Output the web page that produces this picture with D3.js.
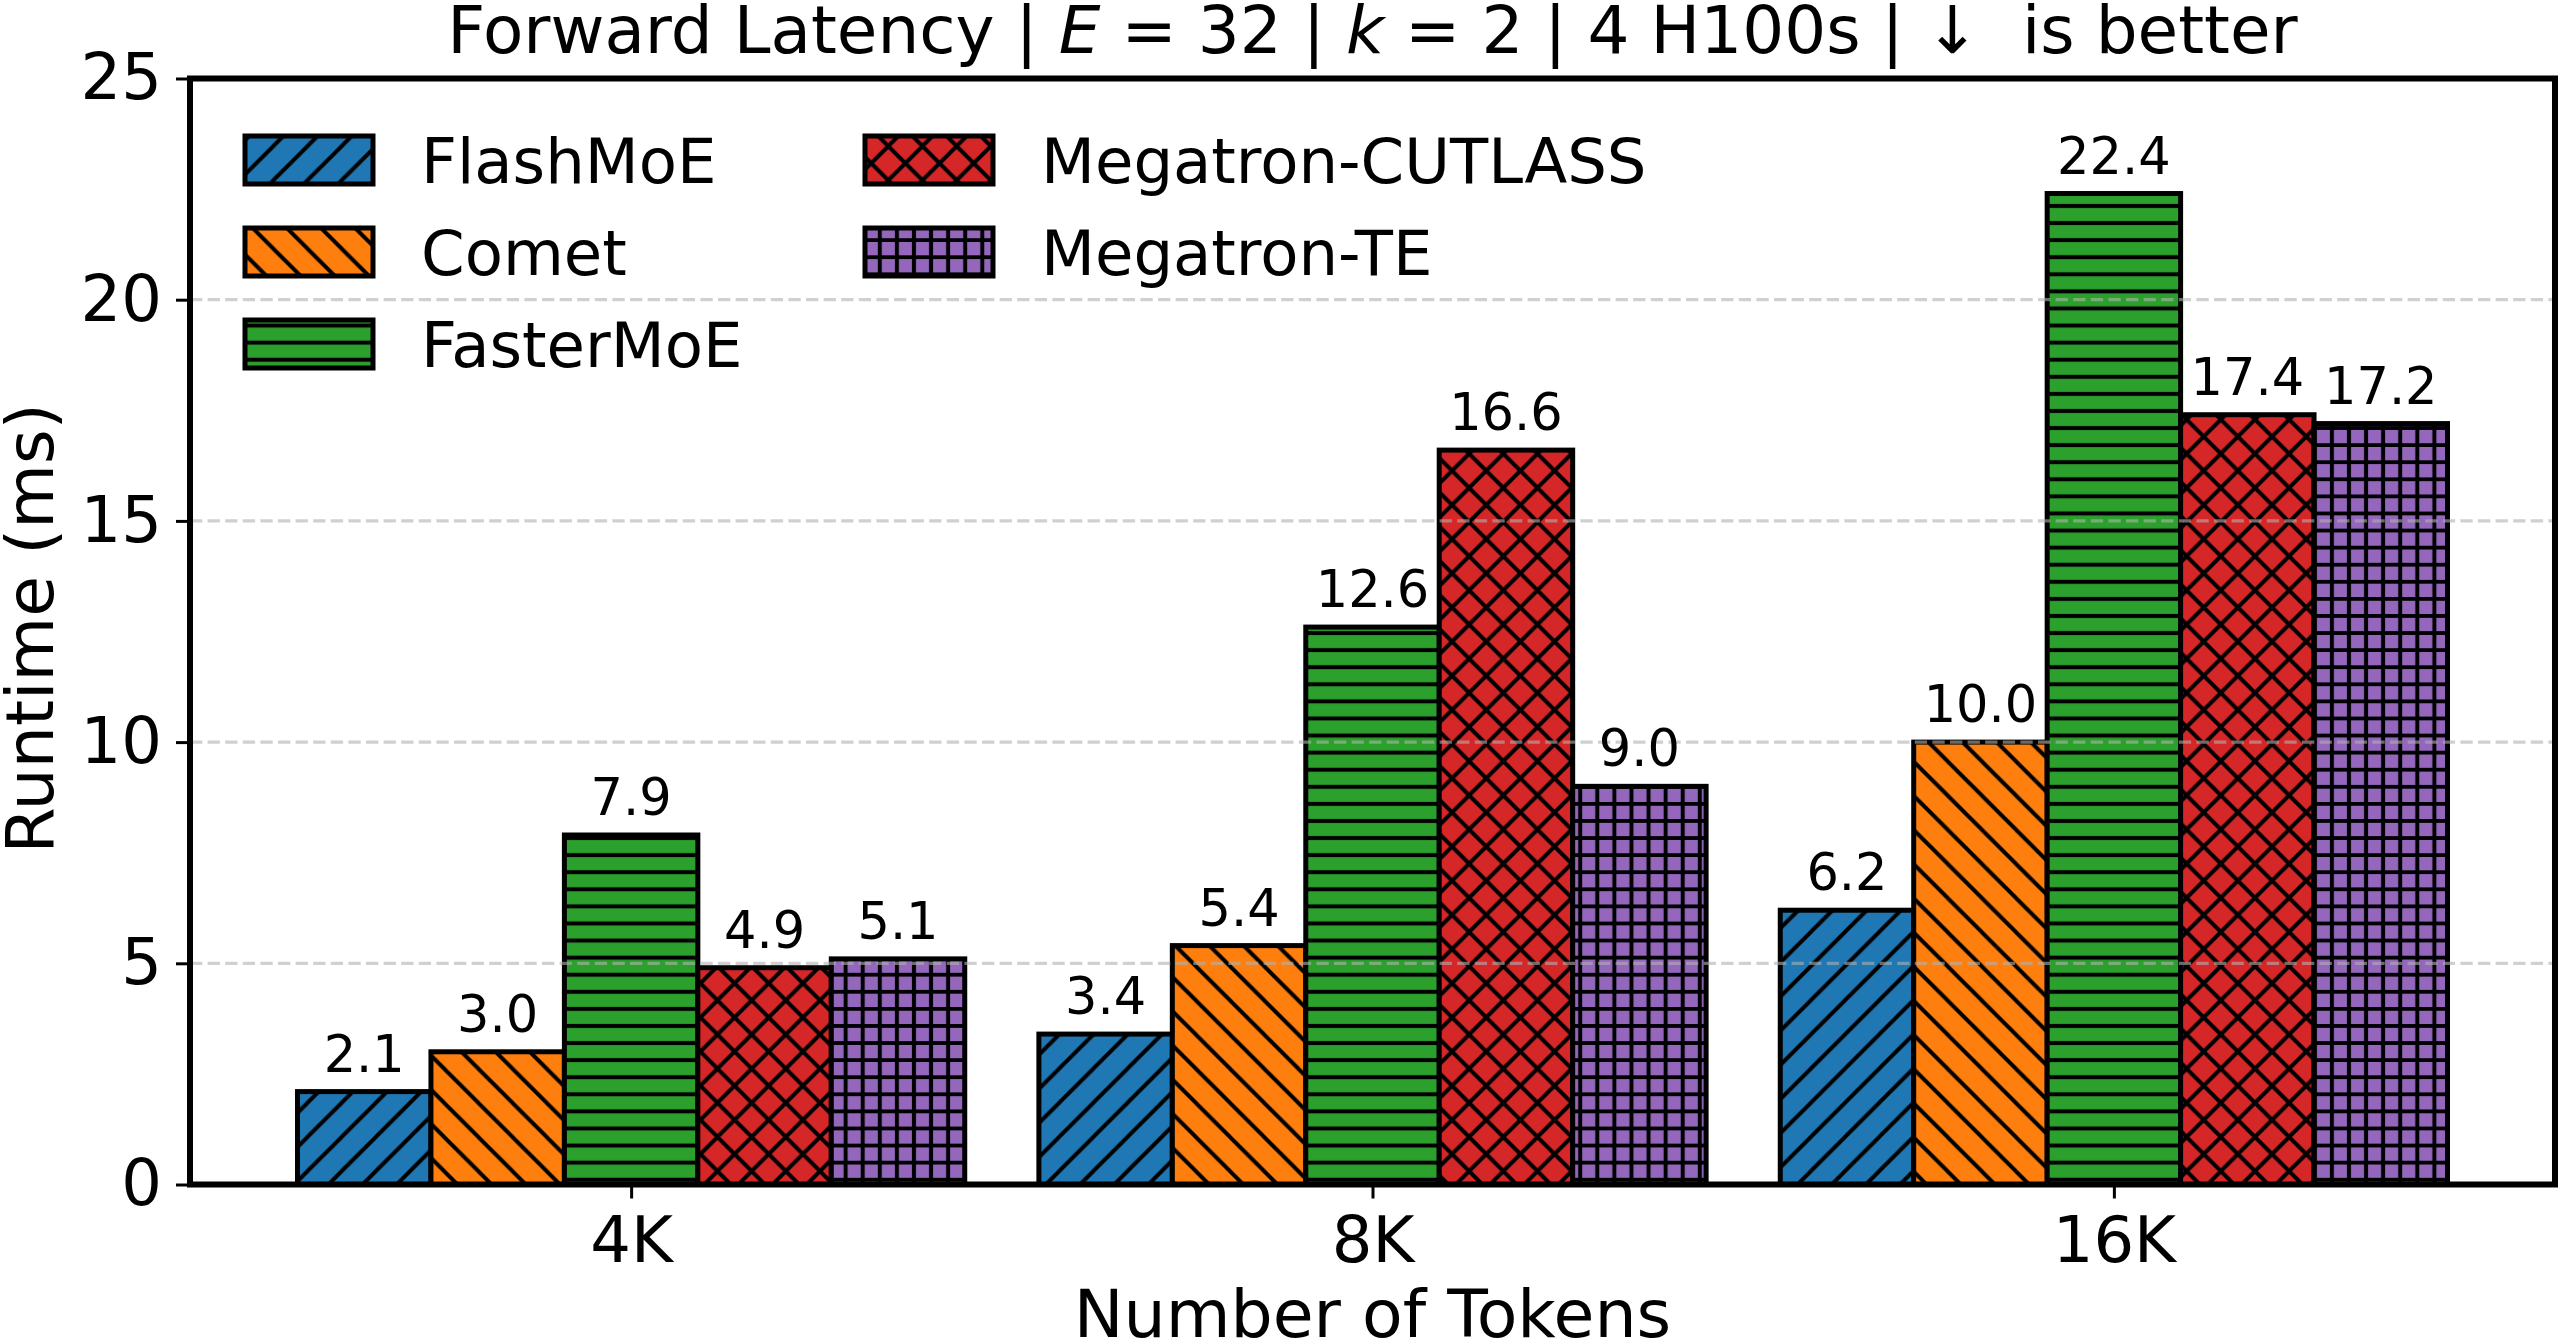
<!DOCTYPE html>
<html><head><meta charset="utf-8">
<script src="https://cdn.jsdelivr.net/npm/d3@7"></script>
<style>
body{margin:0;background:#fff}
svg{display:block}
text{font-family:"DejaVu Sans",sans-serif;fill:#000}
</style>
</head><body>
<svg id="chart" width="2559" height="1342"></svg>
<script>
// ---- data ----
const categories = ["4K", "8K", "16K"];
const seriesNames = ["FlashMoE", "Comet", "FasterMoE", "Megatron-CUTLASS", "Megatron-TE"];
const flashMoE = [2.1, 3.4, 6.2];
const comet = [3.0, 5.4, 10.0];
const fasterMoE = [7.9, 12.6, 22.4];
const megatronCutlass = [4.9, 16.6, 17.4];
const megatronTE = [5.1, 9.0, 17.2];
const yTicks = [0, 5, 10, 15, 20, 25];
const gridTicks = [5, 10, 15, 20];
const colors = ["#1f77b4", "#ff7f0e", "#2ca02c", "#d62728", "#9467bd"];
const hatches = ["/", "\\", "-", "x", "+"];
const seriesValues = [flashMoE, comet, fasterMoE, megatronCutlass, megatronTE];

// ---- layout ----
const W = 2559, H = 1342;
const L = 190, R = 2555, T = 78.5, B = 1184.5;
const FS = 64, FSlab = 66.5, FStitle = 66, FSleg = 62.5, FSval = 51;
const barW = 0.18;

const svg = d3.select("#chart");
const x = d3.scaleLinear().domain([-0.595, 2.595]).range([L, R]);
const y = d3.scaleLinear().domain([0, 25]).range([B, T]);

// ---- hatch patterns ----
const U = 205, s = U / 6, s2 = U / 12, hw = 4;
const defs = svg.append("defs");
hatches.forEach((h, i) => {
  const size = (h === "-" || h === "+") ? s2 : s;
  const p = defs.append("pattern").attr("id", "pat" + i)
    .attr("patternUnits", "userSpaceOnUse")
    .attr("x", 0).attr("y", H)
    .attr("width", size).attr("height", size);
  p.append("rect").attr("width", size).attr("height", size).attr("fill", colors[i]);
  let d = "";
  const fwd = `M0,${s} L${s},0 M${-s/4},${s/4} L${s/4},${-s/4} M${3*s/4},${5*s/4} L${5*s/4},${3*s/4}`;
  const bwd = `M0,0 L${s},${s} M${-s/4},${3*s/4} L${s/4},${5*s/4} M${3*s/4},${-s/4} L${5*s/4},${s/4}`;
  if (h === "/") d = fwd;
  else if (h === "\\") d = bwd;
  else if (h === "x") d = fwd + " " + bwd;
  else if (h === "-") d = `M0,${s2/2} H${s2}`;
  else if (h === "+") d = `M0,${s2/2} H${s2} M${s2/2},0 V${s2}`;
  p.append("path").attr("d", d).attr("stroke", "#000").attr("stroke-width", hw)
    .attr("fill", "none").attr("stroke-linecap", "square");
});

// ---- bars ----
const barsG = svg.append("g");
seriesValues.forEach((vals, si) => {
  const off = (si - 2) * barW;
  barsG.selectAll(null).data(vals).join("rect")
    .attr("x", (d, ci) => x(ci + off - barW / 2))
    .attr("width", (d, ci) => x(ci + off + barW / 2) - x(ci + off - barW / 2))
    .attr("y", d => y(d))
    .attr("height", d => y(0) - y(d))
    .attr("fill", `url(#pat${si})`)
    .attr("stroke", "#000").attr("stroke-width", 5);
});

// ---- grid (above bars, matplotlib default) ----
svg.append("g").selectAll("line").data(gridTicks).join("line")
  .attr("x1", L).attr("x2", R)
  .attr("y1", d => y(d)).attr("y2", d => y(d))
  .attr("stroke", "#b0b0b0").attr("stroke-opacity", 0.6)
  .attr("stroke-width", 3.3).attr("stroke-dasharray", "12.3,5.3");

// ---- value labels ----
const labG = svg.append("g");
seriesValues.forEach((vals, si) => {
  const off = (si - 2) * barW;
  labG.selectAll(null).data(vals).join("text")
    .attr("x", (d, ci) => x(ci + off))
    .attr("y", d => y(d) - 20)
    .attr("text-anchor", "middle")
    .attr("font-size", FSval)
    .text(d => d.toFixed(1));
});

// ---- axes ----
const yAxis = d3.axisLeft(y).tickValues(yTicks).tickSize(14).tickPadding(14).tickFormat(d3.format("d"));
const gy = svg.append("g").attr("transform", `translate(${L},0)`).call(yAxis);
gy.select(".domain").remove();
gy.selectAll(".tick line").attr("stroke", "#000").attr("stroke-width", 3);
gy.selectAll(".tick text").attr("font-size", FS).attr("font-family", "DejaVu Sans").attr("fill", "#000");

const xAxis = d3.axisBottom(x).tickValues([0, 1, 2]).tickSize(14).tickPadding(18).tickFormat(i => categories[i]);
const gx = svg.append("g").attr("transform", `translate(0,${B})`).call(xAxis);
gx.select(".domain").remove();
gx.selectAll(".tick line").attr("stroke", "#000").attr("stroke-width", 3);
gx.selectAll(".tick text").attr("font-size", FS).attr("font-family", "DejaVu Sans").attr("fill", "#000");

// spines
svg.append("rect").attr("x", L).attr("y", T).attr("width", R - L).attr("height", B - T)
  .attr("fill", "none").attr("stroke", "#000").attr("stroke-width", 6);

// ---- axis labels & title ----
svg.append("text").attr("x", (L + R) / 2).attr("y", 1337).attr("text-anchor", "middle")
  .attr("font-size", FSlab).text("Number of Tokens");
svg.append("text").attr("transform", `translate(53,${(T + B) / 2 - 3}) rotate(-90)`)
  .attr("text-anchor", "middle").attr("font-size", FSlab).text("Runtime (ms)");

const title = svg.append("text").attr("x", (L + R) / 2).attr("y", 53)
  .attr("text-anchor", "middle").attr("font-size", FStitle).style("white-space", "pre");
title.append("tspan").text("Forward Latency | ");
title.append("tspan").attr("font-style", "italic").text("E");
title.append("tspan").text(" = 32 | ");
title.append("tspan").attr("font-style", "italic").text("k");
title.append("tspan").text(" = 2 | 4 H100s | \u2193  is better");

// ---- legend ----
const legG = svg.append("g");
const legPos = [[245, 136], [245, 228], [245, 320], [865, 136], [865, 228]];
seriesNames.forEach((name, i) => {
  const [lx, ly] = legPos[i];
  legG.append("rect").attr("x", lx).attr("y", ly).attr("width", 128).attr("height", 48)
    .attr("fill", `url(#pat${i})`).attr("stroke", "#000").attr("stroke-width", 5);
  legG.append("text").attr("x", lx + 176).attr("y", ly + 46.5).attr("font-size", FSleg).text(name);
});
</script>
</body></html>
